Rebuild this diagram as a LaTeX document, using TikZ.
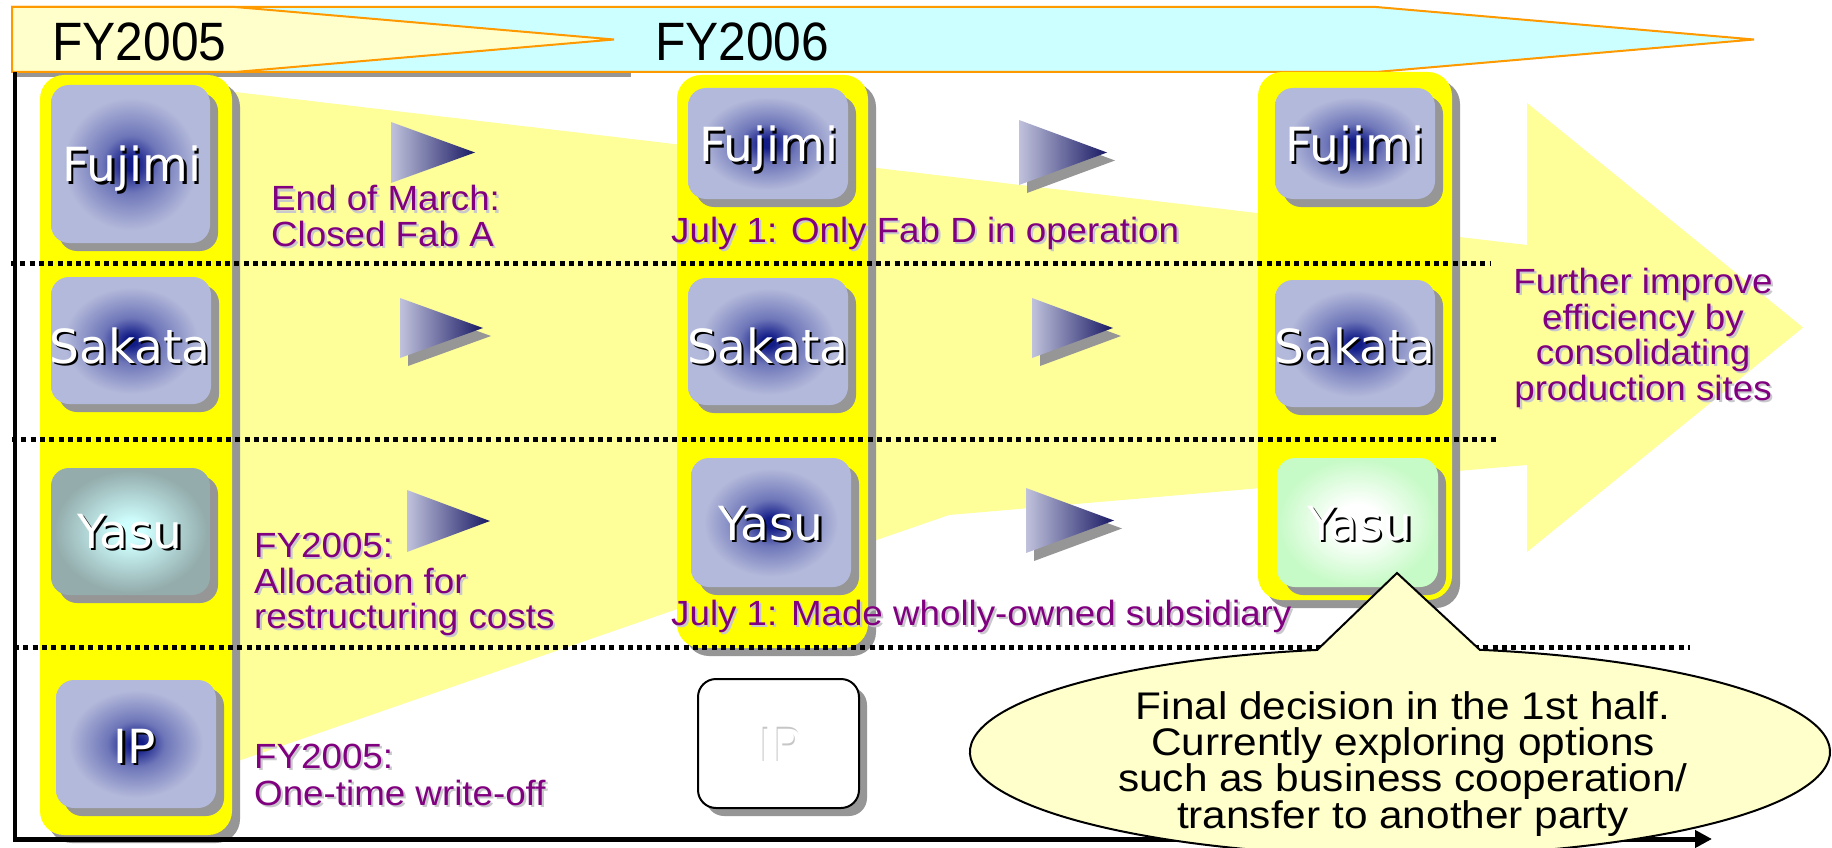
\documentclass[tikz,border=0pt]{standalone}
\usepackage{fontspec}
\setmainfont{Liberation Sans}
\newfontfamily\hdrfont[FakeStretch=0.92]{Liberation Sans}
\newfontfamily\purfont[FakeStretch=1.05]{Liberation Sans}
\newfontfamily\callfont[FakeStretch=1.10]{Liberation Sans}
\newfontfamily\boxfont{DejaVu Sans}
\usetikzlibrary{arrows.meta}

\definecolor{hdryel}{RGB}{255,255,204}
\definecolor{hdrcyan}{RGB}{204,255,255}
\definecolor{hdrorange}{RGB}{255,153,0}
\definecolor{bigyel}{RGB}{255,255,153}
\definecolor{colyel}{RGB}{255,255,0}
\definecolor{shgray}{RGB}{150,150,150}
\definecolor{purp}{RGB}{128,0,128}
\definecolor{purpsh}{RGB}{200,200,205}
\definecolor{callfill}{RGB}{255,255,204}
\definecolor{trileft}{RGB}{192,194,220}
\definecolor{triright}{RGB}{25,25,100}
\definecolor{glowin}{RGB}{18,28,135}
\definecolor{glowmid}{RGB}{110,118,185}
\definecolor{glowout}{RGB}{179,185,218}
\definecolor{tealin}{RGB}{208,255,255}
\definecolor{tealout}{RGB}{148,172,172}
\definecolor{greenout}{RGB}{198,250,198}

\pgfdeclareradialshading{blueglow}{\pgfpoint{0bp}{0bp}}{color(0bp)=(glowin); color(2bp)=(glowin); color(9bp)=(glowmid); color(21bp)=(glowout); color(50bp)=(glowout)}
\pgfdeclareradialshading{tealglow}{\pgfpoint{0bp}{0bp}}{color(0bp)=(tealin); color(4bp)=(tealin); color(24bp)=(tealout); color(50bp)=(tealout)}
\pgfdeclareradialshading{greenglow}{\pgfpoint{0bp}{0bp}}{color(0bp)=(white); color(7bp)=(white); color(25bp)=(greenout); color(50bp)=(greenout)}

% site box: #1 shading, #2 x1, #3 y1, #4 x2, #5 y2
\newcommand{\sitebox}[5]{%
  \fill[shgray, rounded corners=18pt] (#2+8,#3+8) rectangle (#4+8,#5+8);
  \shade[shading=#1, rounded corners=18pt] (#2,#3) rectangle (#4,#5);}
% column: #1 x1, #2 y1, #3 x2, #4 y2
\newcommand{\yelcol}[4]{%
  \fill[shgray, rounded corners=24pt] (#1+8,#2+8) rectangle (#3+8,#4+8);
  \fill[colyel, rounded corners=24pt] (#1,#2) rectangle (#3,#4);}
% play triangle: #1 x, #2 top y, #3 bottom y, #4 tip x, #5 shadow (0/1)
\newcommand{\playtri}[5]{%
  \ifnum#5=1 \fill[shgray] (#1+8,#2+8) -- (#1+8,#3+8) -- (#4+8,{(#2+#3)/2+8}) -- cycle;\fi
  \shade[left color=trileft, right color=triright] (#1,#2) -- (#1,#3) -- (#4,{(#2+#3)/2}) -- cycle;}
% text with shadow: #1 name, #2 x, #3 y, #4 anchor, #5 style, #6 shadow colour, #7 text
\newcommand{\shtext}[7]{%
  \node[#5, anchor=#4, text=#6] at (#2+2.2,#3+2.2) {#7};
  \node[#5, anchor=#4] (#1) at (#2,#3) {#7};}

\begin{document}
\begin{tikzpicture}[x=1pt,y=-1pt,
  purptext/.style={font=\purfont\fontsize{35}{37}\selectfont, text=purp, inner sep=0pt},
  boxtext/.style={font=\boxfont\fontsize{47}{50}\selectfont, text=white, inner sep=0pt},
  hdrtext/.style={font=\hdrfont\fontsize{54}{56}\selectfont, text=black, inner sep=0pt},
  calltext/.style={font=\callfont\fontsize{38.5}{40}\selectfont, text=black, inner sep=0pt},
  dotline/.style={line width=5pt, dash pattern=on 5pt off 4.3pt},
  hdrshape/.style={draw=hdrorange, line width=2pt, line join=miter}]
\useasboundingbox (0,0) rectangle (1832,848);
\fill[white] (0,0) rectangle (1832,848);

% ---- header band ----
\fill[shgray] (13,72) rectangle (631,77);
\filldraw[hdrshape, fill=hdrcyan] (12,7) -- (1376,7) -- (1754,39.5) -- (1376,72) -- (12,72) -- cycle;
\filldraw[hdrshape, fill=hdryel] (12,7) -- (235,7) -- (614,39.5) -- (235,72) -- (12,72) -- cycle;
\node[hdrtext, anchor=base] (fy5) at (139.5,61) {FY2005};
\node[hdrtext, anchor=base] (fy6) at (742,61) {FY2006};

% ---- big background arrow ----
\fill[bigyel] (100,76) -- (1527,245) -- (1527,103) -- (1803,327.5) -- (1527,552) -- (1527,465) -- (949,515) -- (241,760) -- (100,808) -- cycle;

% ---- yellow columns ----
\yelcol{40}{75}{232}{835}
\yelcol{677}{75}{868}{648}
\yelcol{1258}{72}{1452}{600}

% ---- dotted separators ----
\draw[dotline] (11,263.5) -- (1491,263.5);
\draw[dotline] (12,439.5) -- (1497,439.5);
\draw[dotline] (14,647) -- (1690,647);

% ---- site boxes ----
\sitebox{blueglow}{51}{85}{210}{243}
\sitebox{blueglow}{51}{277}{211}{404}
\sitebox{tealglow}{51}{468}{210}{595}
\sitebox{blueglow}{56}{680}{216}{808}
\sitebox{blueglow}{688}{88}{848}{199}
\sitebox{blueglow}{688}{278}{848}{405}
\sitebox{blueglow}{691}{458}{851}{587}
\fill[shgray, rounded corners=18pt] (706,687) rectangle (867,816);
\filldraw[fill=white, draw=black, line width=2pt, rounded corners=18pt] (698,679) rectangle (859,808);
\sitebox{blueglow}{1275}{88}{1435}{199}
\sitebox{blueglow}{1275}{280}{1435}{407}
\sitebox{greenglow}{1277}{458}{1438}{587}

\shtext{fuj1}{132}{182}{base}{boxtext}{black}{Fujimi}
\shtext{sak1}{130}{363}{base}{boxtext}{black}{Sakata}
\shtext{yas1}{130}{548}{base}{boxtext}{black}{Yasu}
\shtext{ip1}{135}{763}{base}{boxtext}{black}{IP}
\shtext{fuj2}{769}{162}{base}{boxtext}{black}{Fujimi}
\shtext{sak2}{768}{363}{base}{boxtext}{black}{Sakata}
\shtext{yas2}{771}{540}{base}{boxtext}{black}{Yasu}
\node[boxtext, anchor=base, text=gray!45] at (779.5,761.5) {IP};
\node[boxtext, anchor=base] (ip2) at (781,763) {IP};
\shtext{fuj3}{1355}{162}{base}{boxtext}{black}{Fujimi}
\shtext{sak3}{1355}{363}{base}{boxtext}{black}{Sakata}
\shtext{yas3}{1360}{540}{base}{boxtext}{black}{Yasu}

% ---- play triangles ----
\playtri{391}{122}{183}{475}{0}
\playtri{1019}{120}{185}{1107}{1}
\playtri{400}{298}{358}{483}{1}
\playtri{1032}{298}{358}{1113}{1}
\playtri{407}{490}{552}{490}{0}
\playtri{1026}{488}{553}{1114}{1}

% ---- purple notes ----
\shtext{n1a}{271}{211}{base west}{purptext}{purpsh}{End of March:}
\shtext{n1b}{271}{246}{base west}{purptext}{purpsh}{Closed Fab A}
\shtext{n2}{671}{242}{base west}{purptext}{purpsh}{July 1: Only Fab D in operation}
\shtext{n3a}{254}{557}{base west}{purptext}{purpsh}{FY2005:}
\shtext{n3b}{254}{593}{base west}{purptext}{purpsh}{Allocation for}
\shtext{n3c}{254}{628}{base west}{purptext}{purpsh}{restructuring costs}
\shtext{n4}{671}{625}{base west}{purptext}{purpsh}{July 1: Made wholly-owned subsidiary}
\shtext{n5a}{254}{768}{base west}{purptext}{purpsh}{FY2005:}
\shtext{n5b}{254}{805}{base west}{purptext}{purpsh}{One-time write-off}
\shtext{n6a}{1643}{293}{base}{purptext}{purpsh}{Further improve}
\shtext{n6b}{1643}{329}{base}{purptext}{purpsh}{efficiency by}
\shtext{n6c}{1643}{364.5}{base}{purptext}{purpsh}{consolidating}
\shtext{n6d}{1643}{400}{base}{purptext}{purpsh}{production sites}

% ---- axes ----
\coordinate (axtop) at (15,72);
\coordinate (axorig) at (15,841.5);
\coordinate (axstart) at (13,839);
\coordinate (axend) at (1712,839);
\draw[line width=4.5pt] (axtop) -- (axorig);
\draw[line width=5pt, -{Triangle[length=17pt,width=17pt]}] (axstart) -- (axend);

% ---- callout ----
\filldraw[fill=callfill, draw=black, line width=2pt, line join=miter]
  (1479.8,649.8) arc[start angle=-79.3, end angle=258.9, x radius=430, y radius=104]
  -- (1397,573) -- cycle;
\node[calltext, anchor=base] (c1) at (1403,719) {Final decision in the 1st half.};
\node[calltext, anchor=base] (c2) at (1403,755) {Currently exploring options};
\node[calltext, anchor=base] (c3) at (1403,791) {such as business cooperation/};
\node[calltext, anchor=base] (c4) at (1403,828) {transfer to another party};
\end{tikzpicture}
\end{document}
